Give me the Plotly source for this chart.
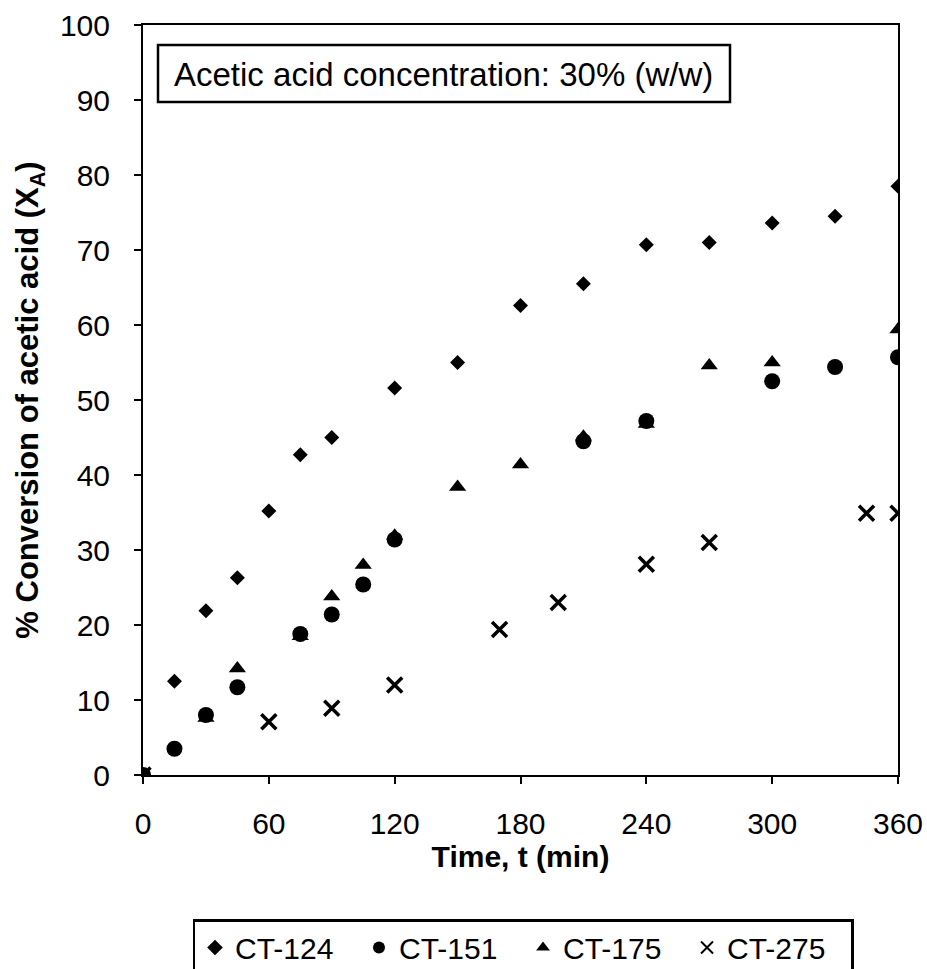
import plotly.graph_objects as go

# Data
x_124 = [0, 15, 30, 45, 60, 75, 90, 120, 150, 180, 210, 240, 270, 300, 330, 360]
y_124 = [0, 12.5, 21.9, 26.3, 35.2, 42.7, 45.0, 51.6, 55.0, 62.6, 65.5, 70.7, 71.0, 73.6, 74.5, 78.5]

x_151 = [0, 15, 30, 45, 75, 90, 105, 120, 210, 240, 300, 330, 360]
y_151 = [0, 3.5, 8.0, 11.7, 18.8, 21.4, 25.4, 31.4, 44.5, 47.2, 52.5, 54.4, 55.7]

x_175 = [0, 30, 45, 75, 90, 105, 120, 150, 180, 210, 240, 270, 300, 360]
y_175 = [0, 7.6, 14.2, 18.5, 23.8, 28.0, 31.9, 38.4, 41.4, 45.1, 46.8, 54.6, 55.0, 59.4]

x_275 = [0, 60, 90, 120, 170, 198, 240, 270, 345, 360]
y_275 = [0, 7.1, 8.9, 12.0, 19.4, 23.0, 28.1, 31.0, 34.9, 34.9]

x_ticks = [0, 60, 120, 180, 240, 300, 360]
y_ticks = [0, 10, 20, 30, 40, 50, 60, 70, 80, 90, 100]

FONT = "Liberation Sans, Arial, sans-serif"

L, R, T, B = 143, 29, 25, 194
W, H = 927, 969
PW = W - L - R
PH = H - T - B


def px(xp):
    return (xp - L) / PW


def py(yp):
    return (H - B - yp) / PH


fig = go.Figure()
fig.add_trace(go.Scatter(x=x_124, y=y_124, mode="markers", name="CT-124",
                         marker=dict(symbol="diamond", size=11.5, color="black")))
fig.add_trace(go.Scatter(x=x_151, y=y_151, mode="markers", name="CT-151",
                         marker=dict(symbol="circle", size=16, color="black")))
fig.add_trace(go.Scatter(x=x_175, y=y_175, mode="markers", name="CT-175",
                         marker=dict(symbol="triangle-up", size=15, color="black")))
fig.add_trace(go.Scatter(x=x_275, y=y_275, mode="markers", name="CT-275",
                         marker=dict(symbol="x-thin", size=15, color="black",
                                     line=dict(width=3.5, color="black"))))

axis_common = dict(showgrid=False, zeroline=False, showline=True, linecolor="black",
                   linewidth=2, mirror=True, ticks="outside", ticklen=7, tickwidth=2,
                   tickcolor="black", tickfont=dict(family=FONT, size=30, color="black"),
                   automargin=False)

fig.update_xaxes(range=[0, 360], tickvals=x_ticks, ticklabelstandoff=14,
                 title=dict(text="<b>Time, t (min)</b>",
                            font=dict(family=FONT, size=30, color="black"), standoff=0),
                 **axis_common)
fig.update_yaxes(range=[0, 100], tickvals=y_ticks, ticklabelstandoff=18,
                 title=dict(text="<b>% Conversion of acetic acid (X<sub>A</sub>)</b>",
                            font=dict(family=FONT, size=31, color="black"), standoff=12),
                 **axis_common)

# Annotation box
fig.add_shape(type="rect", xref="paper", yref="paper",
              x0=px(158), x1=px(730), y0=py(102), y1=py(45),
              line=dict(color="black", width=2.5), fillcolor="white", layer="above")
fig.add_annotation(xref="paper", yref="paper", x=px(443), y=py(74),
                   text="Acetic acid concentration: 30% (w/w)", showarrow=False,
                   font=dict(family=FONT, size=33, color="black"),
                   xanchor="center", yanchor="middle")

fig.update_layout(
    width=W, height=H,
    margin=dict(l=L, r=R, t=T, b=B, autoexpand=False),
    paper_bgcolor="white", plot_bgcolor="white",
    showlegend=True,
    legend=dict(orientation="h", xref="paper", yref="paper", x=px(523), xanchor="center",
                y=py(919), yanchor="top",
                bordercolor="black", borderwidth=2.5, bgcolor="white",
                font=dict(family=FONT, size=30, color="black"),
                entrywidth=119, entrywidthmode="pixels",
                itemsizing="constant", tracegroupgap=0),
)

fig.write_html("out.html")
